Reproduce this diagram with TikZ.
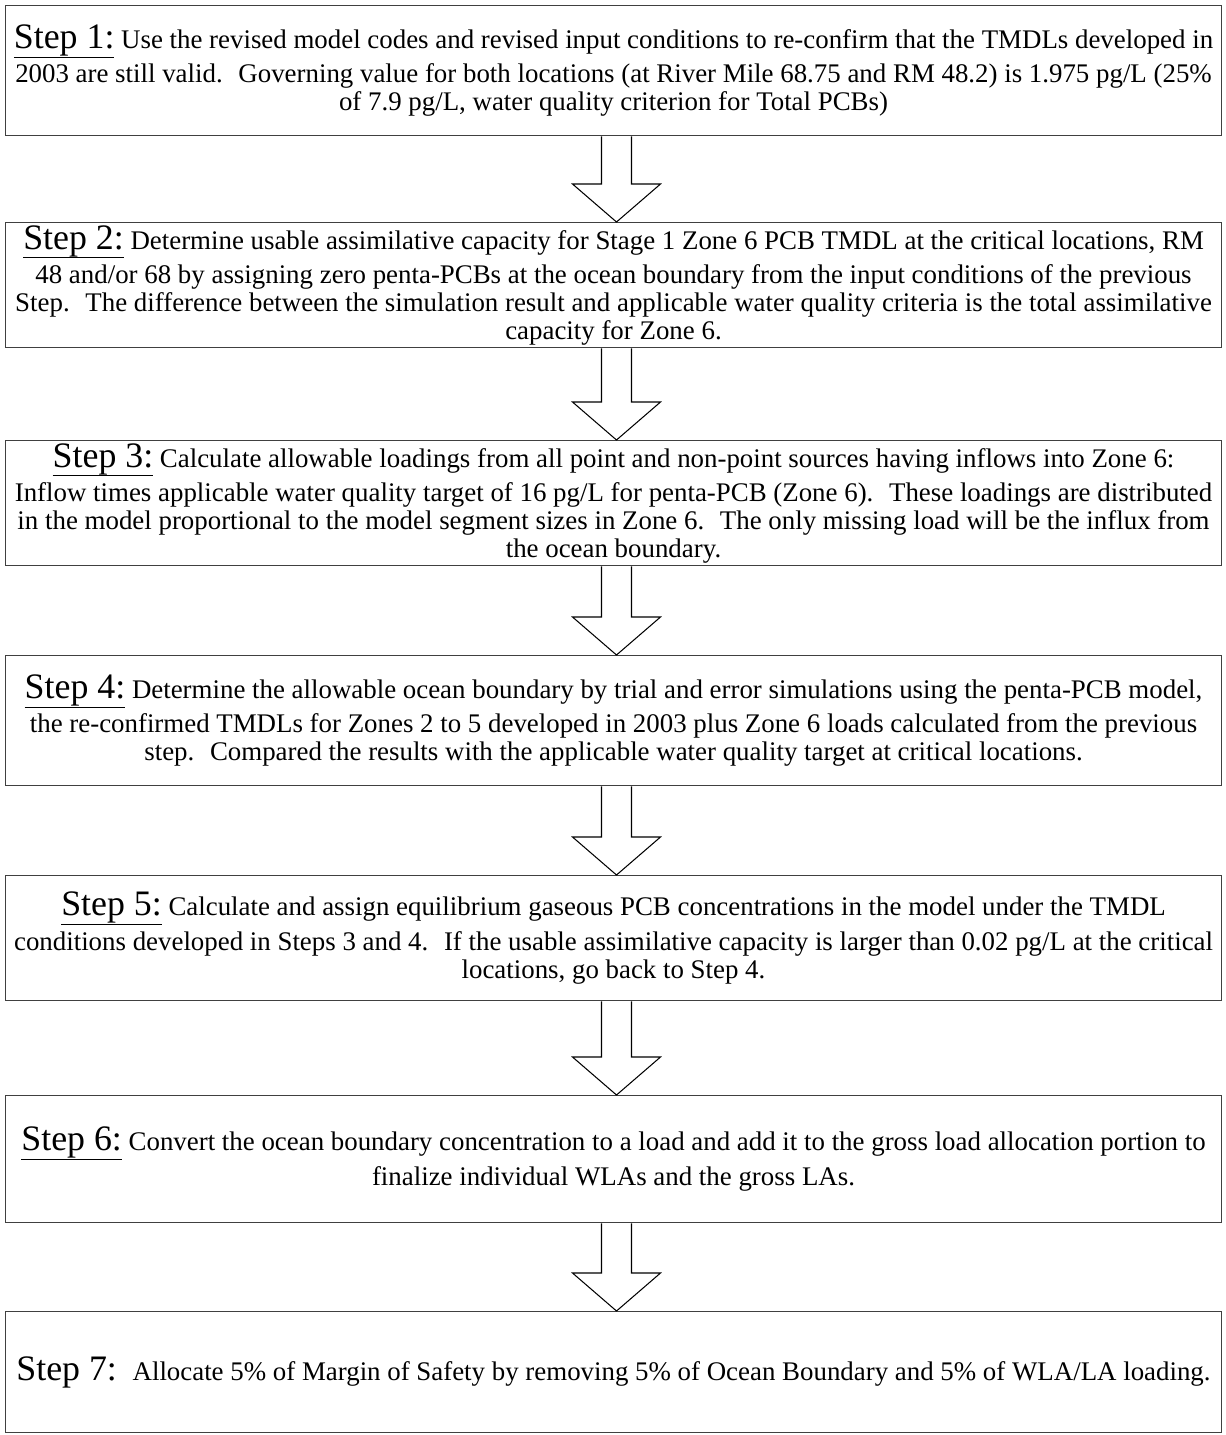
\documentclass[tikz,border=0pt]{standalone}
\usepackage{fontspec}
\setmainfont{Liberation Serif}
\usetikzlibrary{positioning,calc}
\tikzset{stepbox/.style={draw=black!75, line width=0.6pt, anchor=north, minimum width=584pt, inner sep=0pt, align=center, font=\fontsize{12.9}{13.4}\selectfont}}
\tikzset{arrowline/.style={line width=0.5pt, black}}
\newcommand{\steplabel}[1]{{\fontsize{17.2}{13.4}\selectfont\setbox0\hbox{#1}\rlap{\rule[-4.4pt]{\wd0}{0.5pt}}\box0}}
\newcommand{\flowarrow}[2]{%
  \draw[arrowline] ($(#1.south)+(-12,0)$) -- ($(#1.south |- #2.north)+(-12,38)$)
    -- ($(#1.south |- #2.north)+(-41,38)$) -- ($(#1.south |- #2.north)+(3,0)$)
    -- ($(#1.south |- #2.north)+(47,38)$) -- ($(#1.south |- #2.north)+(18,38)$)
    -- ($(#1.south)+(18,0)$);}

\begin{document}
\begin{tikzpicture}[x=0.48pt, y=0.48pt]
            \useasboundingbox (0,0) rectangle (1225,-1435);

            \node[stepbox, minimum height=62.4pt] (s1) at (613.5,-5) {\steplabel{Step 1:} Use the revised model codes and revised input conditions to re-confirm that the TMDLs developed in\\[2pt]
              2003 are still valid.~ Governing value for both locations (at River Mile 68.75 and RM 48.2) is 1.975 pg/L (25\%\\
              of 7.9 pg/L, water quality criterion for Total PCBs)};
            \node[stepbox, minimum height=60pt] (s2) at (613.5,-222) {\steplabel{Step 2:} Determine usable assimilative capacity for Stage 1 Zone 6 PCB TMDL at the critical locations, RM\\[2pt]
              48 and/or 68 by assigning zero penta-PCBs at the ocean boundary from the input conditions of the previous\\
              Step.~ The difference between the simulation result and applicable water quality criteria is the total assimilative\\
              capacity for Zone 6.};
            \node[stepbox, minimum height=60pt] (s3) at (613.5,-440) {\steplabel{Step 3:} Calculate allowable loadings from all point and non-point sources having inflows into Zone 6:\\[2pt]
              Inflow times applicable water quality target of 16 pg/L for penta-PCB (Zone 6).~ These loadings are distributed\\
              in the model proportional to the model segment sizes in Zone 6.~ The only missing load will be the influx from\\
              the ocean boundary.};
            \node[stepbox, minimum height=62.4pt] (s4) at (613.5,-655) {\steplabel{Step 4:} Determine the allowable ocean boundary by trial and error simulations using the penta-PCB model,\\[2pt]
              the re-confirmed TMDLs for Zones 2 to 5 developed in 2003 plus Zone 6 loads calculated from the previous\\
              step.~ Compared the results with the applicable water quality target at critical locations.};
            \node[stepbox, minimum height=60pt] (s5) at (613.5,-875) {\steplabel{Step 5:} Calculate and assign equilibrium gaseous PCB concentrations in the model under the TMDL\\[2pt]
              conditions developed in Steps 3 and 4.~ If the usable assimilative capacity is larger than 0.02 pg/L at the critical\\
              locations, go back to Step 4.};
            \node[stepbox, minimum height=61pt] (s6) at (613.5,-1095) {\steplabel{Step 6:} Convert the ocean boundary concentration to a load and add it to the gross load allocation portion to\\[2pt]
              finalize individual WLAs and the gross LAs.};
            \node[stepbox, minimum height=58.1pt] (s7) at (613.5,-1311) {{\fontsize{17.2}{13.4}\selectfont Step 7:}~ Allocate 5\% of Margin of Safety by removing 5\% of Ocean Boundary and 5\% of WLA/LA loading.};

            \flowarrow{s1}{s2}
            \flowarrow{s2}{s3}
            \flowarrow{s3}{s4}
            \flowarrow{s4}{s5}
            \flowarrow{s5}{s6}
            \flowarrow{s6}{s7}
        \end{tikzpicture}
\end{document}
